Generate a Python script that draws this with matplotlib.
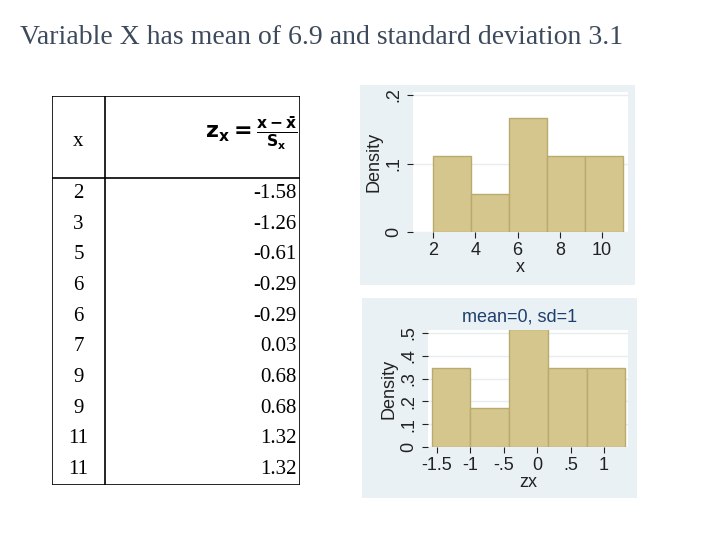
import matplotlib
matplotlib.use("Agg")
import matplotlib.pyplot as plt
import numpy as np

x_vals = [2, 3, 5, 6, 6, 7, 9, 9, 11, 11]
z_vals = [-1.58, -1.26, -0.61, -0.29, -0.29, 0.03, 0.68, 0.68, 1.32, 1.32]
x_ticks = [2, 4, 6, 8, 10]
x_yticks = [0, 0.1, 0.2]
x_yticklabels = ["0", ".1", ".2"]
z_ticks = [-1.5, -1, -0.5, 0, 0.5, 1]
z_ticklabels = ["-1.5", "-1", "-.5", "0", ".5", "1"]
z_yticks = [0, 0.1, 0.2, 0.3, 0.4, 0.5]
z_yticklabels = ["0", ".1", ".2", ".3", ".4", ".5"]

W, H = 720, 540
fig = plt.figure(figsize=(7.2, 5.4), dpi=100)

def ax_px(x0, y0, x1, y1, **kw):
    return fig.add_axes([x0 / W, 1 - y1 / H, (x1 - x0) / W, (y1 - y0) / H], **kw)

fig.text(20 / W, 1 - 37 / H, "Variable X has mean of 6.9 and standard deviation 3.1",
         family="Liberation Serif", fontsize=20, color="#3d4a5c", va="center")

# Table
t = ax_px(52, 96, 300, 485)
t.set_xlim(0, 248); t.set_ylim(389, 0); t.axis("off")
lw = 1.2
t.plot([0, 248, 248, 0, 0], [0, 0, 389, 389, 0], color="black", lw=lw)
t.plot([53, 53], [0, 389], color="black", lw=lw)
t.plot([0, 248], [82, 82], color="black", lw=lw)
t.text(26.5, 45, "x", ha="center", va="center", family="Liberation Serif", fontsize=15)
t.text(245, 37, r"$\mathbf{z_x = \frac{x-\bar{x}}{S_x}}$", ha="right", va="center", fontsize=16)
rh = (389 - 82) / len(x_vals)
for i, (xv, zv) in enumerate(zip(x_vals, z_vals)):
    yc = 82 + rh * (i + 0.5)
    t.text(26.5, yc, str(xv), ha="center", va="center", family="Liberation Serif", fontsize=15)
    t.text(245, yc, f"{zv:.2f}", ha="right", va="center", family="Liberation Serif", fontsize=15)

bg = "#e9f1f4"
barc = "#d4c68c"
edge = "#b9ab6e"
tf = dict(family="Liberation Sans", fontsize=13, color="#222222")

def style(ax):
    for s in ax.spines.values():
        s.set_visible(False)
    ax.tick_params(colors="#222222", length=4, labelsize=13)
    for lab in ax.get_xticklabels() + ax.get_yticklabels():
        lab.set_family("Liberation Sans")
    ax.set_axisbelow(True)
    ax.grid(axis="y", color="#e6ecef", lw=1)

# Histogram 1
b1 = ax_px(360, 85, 635, 285); b1.set_facecolor(bg); b1.set_xticks([]); b1.set_yticks([])
for s in b1.spines.values(): s.set_visible(False)
a1 = ax_px(413, 92, 628, 232)
a1.hist(x_vals, bins=5, density=True, color=barc, edgecolor=edge, lw=1)
a1.set_xlim(1.05, 11.23); a1.set_ylim(0, 0.2044)
a1.set_xticks(x_ticks); a1.set_yticks(x_yticks); a1.set_yticklabels(x_yticklabels, rotation=90, va="center")
style(a1)
a1.set_xlabel("x", labelpad=0, **tf)
a1.set_ylabel("Density", labelpad=2, **tf)

# Histogram 2
b2 = ax_px(362, 298, 637, 498); b2.set_facecolor(bg); b2.set_xticks([]); b2.set_yticks([])
for s in b2.spines.values(): s.set_visible(False)
a2 = ax_px(428, 330, 628, 447)
a2.hist(z_vals, bins=5, density=True, color=barc, edgecolor=edge, lw=1)
a2.set_xlim(-1.633, 1.36); a2.set_ylim(0, 0.513)
a2.set_xticks(z_ticks); a2.set_xticklabels(z_ticklabels)
a2.set_yticks(z_yticks); a2.set_yticklabels(z_yticklabels, rotation=90, va="center")
style(a2)
a2.set_xlabel("zx", labelpad=0, **tf)
a2.set_ylabel("Density", labelpad=2, **tf)
fig.text(520 / W, 1 - 317 / H, "mean=0, sd=1", ha="center", va="center",
         family="Liberation Sans", fontsize=13, color="#1f3f6e")

fig.savefig("out.png", dpi=100)
